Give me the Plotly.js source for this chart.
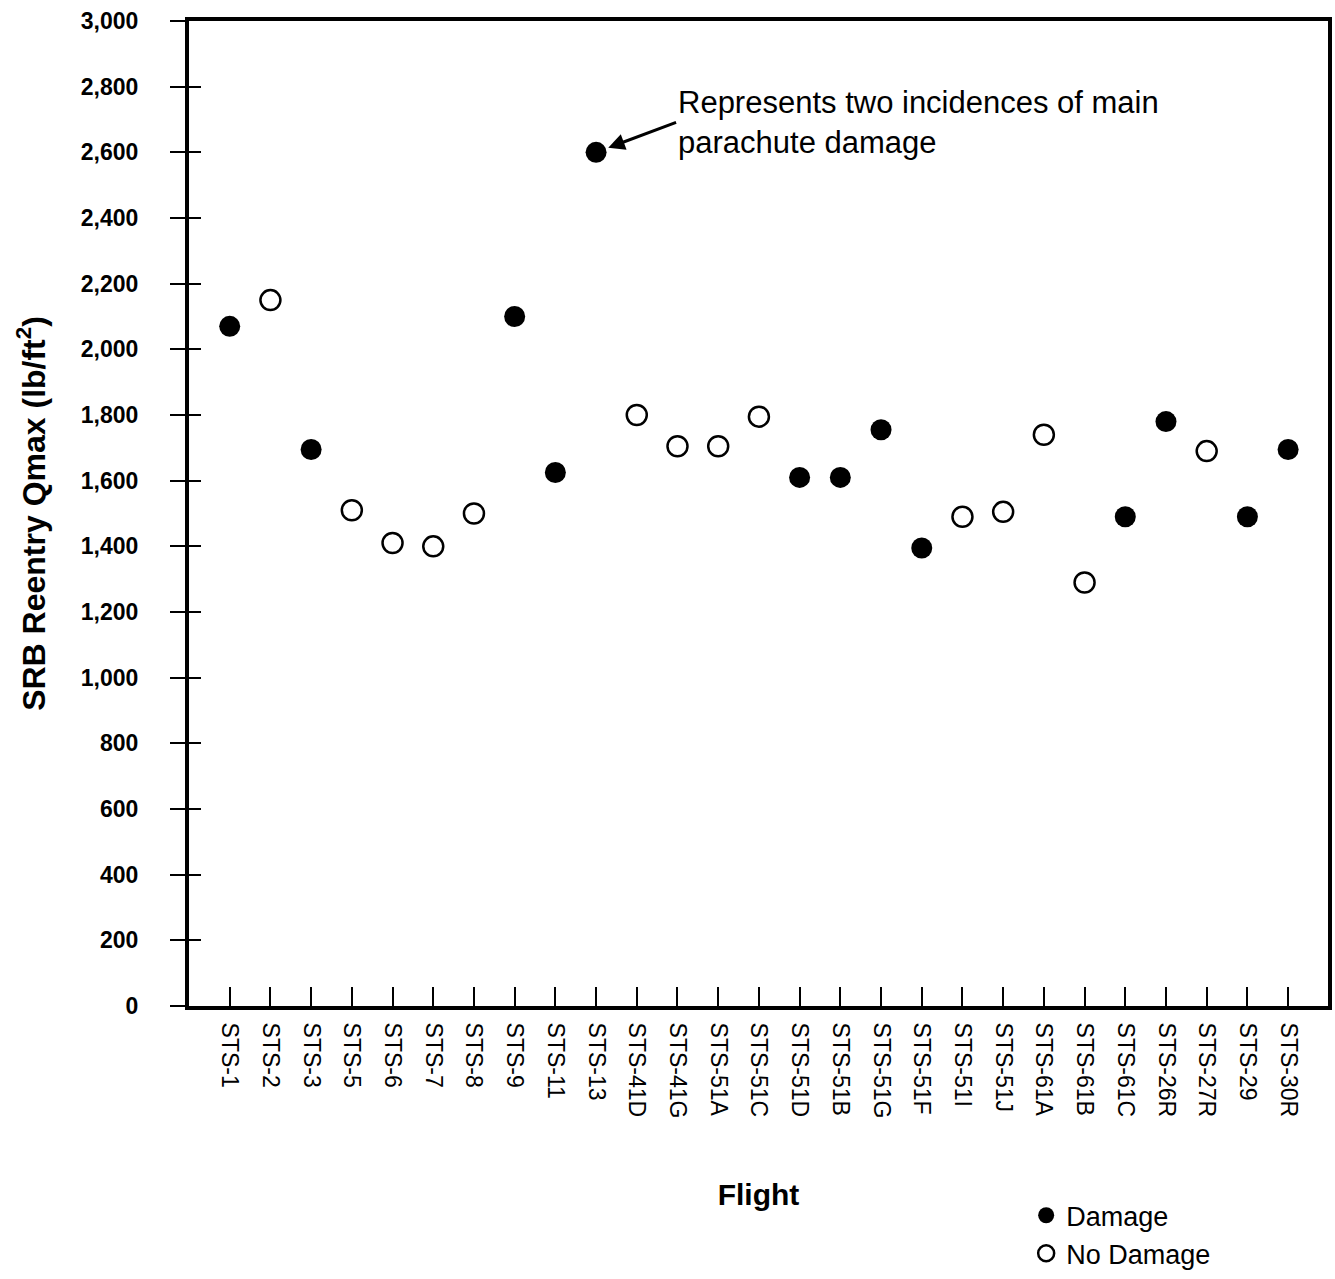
<!DOCTYPE html>
<html>
<head>
<meta charset="utf-8">
<script src="https://cdn.plot.ly/plotly-3.0.1.min.js"></script>
<style>
  html, body { margin: 0; padding: 0; background: #ffffff; }
  #chart { width: 1335px; height: 1279px; }
</style>
</head>
<body>
<div id="chart"></div>
<script>
// ---- Data ----
const flights = [
  "STS-1", "STS-2", "STS-3", "STS-5", "STS-6", "STS-7", "STS-8", "STS-9",
  "STS-11", "STS-13", "STS-41D", "STS-41G", "STS-51A", "STS-51C", "STS-51D",
  "STS-51B", "STS-51G", "STS-51F", "STS-51I", "STS-51J", "STS-61A", "STS-61B",
  "STS-61C", "STS-26R", "STS-27R", "STS-29", "STS-30R"
];
const qmax = [
  2070, 2150, 1695, 1510, 1410, 1400, 1500, 2100,
  1625, 2600, 1800, 1705, 1705, 1795, 1610,
  1610, 1755, 1395, 1490, 1505, 1740, 1290,
  1490, 1780, 1690, 1490, 1695
];
const damaged = [
  true, false, true, false, false, false, false, true,
  true, true, false, false, false, false, true,
  true, true, true, false, false, false, false,
  true, true, false, true, true
];
const yTickVals = [0, 200, 400, 600, 800, 1000, 1200, 1400, 1600, 1800,
                   2000, 2200, 2400, 2600, 2800, 3000];
const noteText = "Represents two incidences of main<br>parachute damage";
const noteFlight = "STS-13";
const noteValue = 2600;

// ---- Split series ----
const dmgX = [], dmgY = [], okX = [], okY = [];
flights.forEach((f, i) => {
  if (damaged[i]) { dmgX.push(f); dmgY.push(qmax[i]); }
  else { okX.push(f); okY.push(qmax[i]); }
});

const FONT = "'Liberation Sans', Arial, Helvetica, sans-serif";

const traces = [
  {
    type: "scatter", mode: "markers", name: "Damage",
    x: dmgX, y: dmgY, xaxis: "x", yaxis: "y",
    marker: { symbol: "circle", size: 21, color: "#000000" },
    hoverinfo: "x+y"
  },
  {
    type: "scatter", mode: "markers", name: "No Damage",
    x: okX, y: okY, xaxis: "x", yaxis: "y2",
    marker: { symbol: "circle-open", size: 20, color: "#000000",
              line: { width: 2.5, color: "#000000" } },
    hoverinfo: "x+y"
  }
];

const yCommon = {
  range: [0, 3000],
  tickvals: yTickVals,
  showgrid: false,
  zeroline: false,
  fixedrange: true,
  automargin: false
};

const layout = {
  width: 1335,
  height: 1279,
  margin: { l: 189, r: 7, t: 21, b: 273, autoexpand: false },
  paper_bgcolor: "#ffffff",
  plot_bgcolor: "#ffffff",
  font: { family: FONT, color: "#000000" },
  showlegend: true,
  legend: {
    x: 0.735, y: -0.188, xanchor: "left", yanchor: "top",
    font: { family: FONT, size: 27, color: "#000000" },
    bgcolor: "rgba(0,0,0,0)", borderwidth: 0,
    tracegroupgap: 0, itemwidth: 30
  },
  xaxis: {
    type: "category",
    categoryorder: "array",
    categoryarray: flights,
    range: [-1.0, 26.98],
    automargin: false,
    showline: true, linewidth: 4, linecolor: "#000000", mirror: true,
    ticks: "inside", ticklen: 19, tickwidth: 2, tickcolor: "#000000",
    tickangle: 90,
    ticklabelstandoff: 8,
    tickfont: { family: FONT, size: 23, color: "#000000" },
    showgrid: false, zeroline: false,
    title: { text: "<b>Flight</b>", font: { family: FONT, size: 30, color: "#000000" }, standoff: 68 },
    fixedrange: true
  },
  yaxis: Object.assign({}, yCommon, {
    showline: true, linewidth: 4, linecolor: "#000000", mirror: true,
    ticks: "outside", ticklen: 15, tickwidth: 2, tickcolor: "#000000",
    tickformat: ",",
    ticklabelstandoff: 27,
    tickfont: { family: FONT, size: 23, color: "#000000", weight: "bold" },
    title: { text: "<b>SRB Reentry Qmax (lb/ft<sup>2</sup>)</b>",
             font: { family: FONT, size: 32, color: "#000000" }, standoff: 27 }
  }),
  yaxis2: Object.assign({}, yCommon, {
    overlaying: "y", anchor: "x", side: "left",
    showline: false,
    ticks: "inside", ticklen: 12, tickwidth: 2, tickcolor: "#000000",
    showticklabels: false
  }),
  annotations: [
    {
      xref: "x", yref: "y",
      x: noteFlight, y: noteValue,
      axref: "pixel", ayref: "pixel",
      ax: 80, ay: -30,
      xanchor: "left", yanchor: "middle", align: "left",
      text: noteText, showarrow: true,
      arrowhead: 2, arrowsize: 1.1, arrowwidth: 3, arrowcolor: "#000000",
      standoff: 13, borderpad: 1,
      font: { family: FONT, size: 31, color: "#000000" }
    }
  ]
};

Plotly.newPlot("chart", traces, layout, { displayModeBar: false, staticPlot: true });
</script>
</body>
</html>
